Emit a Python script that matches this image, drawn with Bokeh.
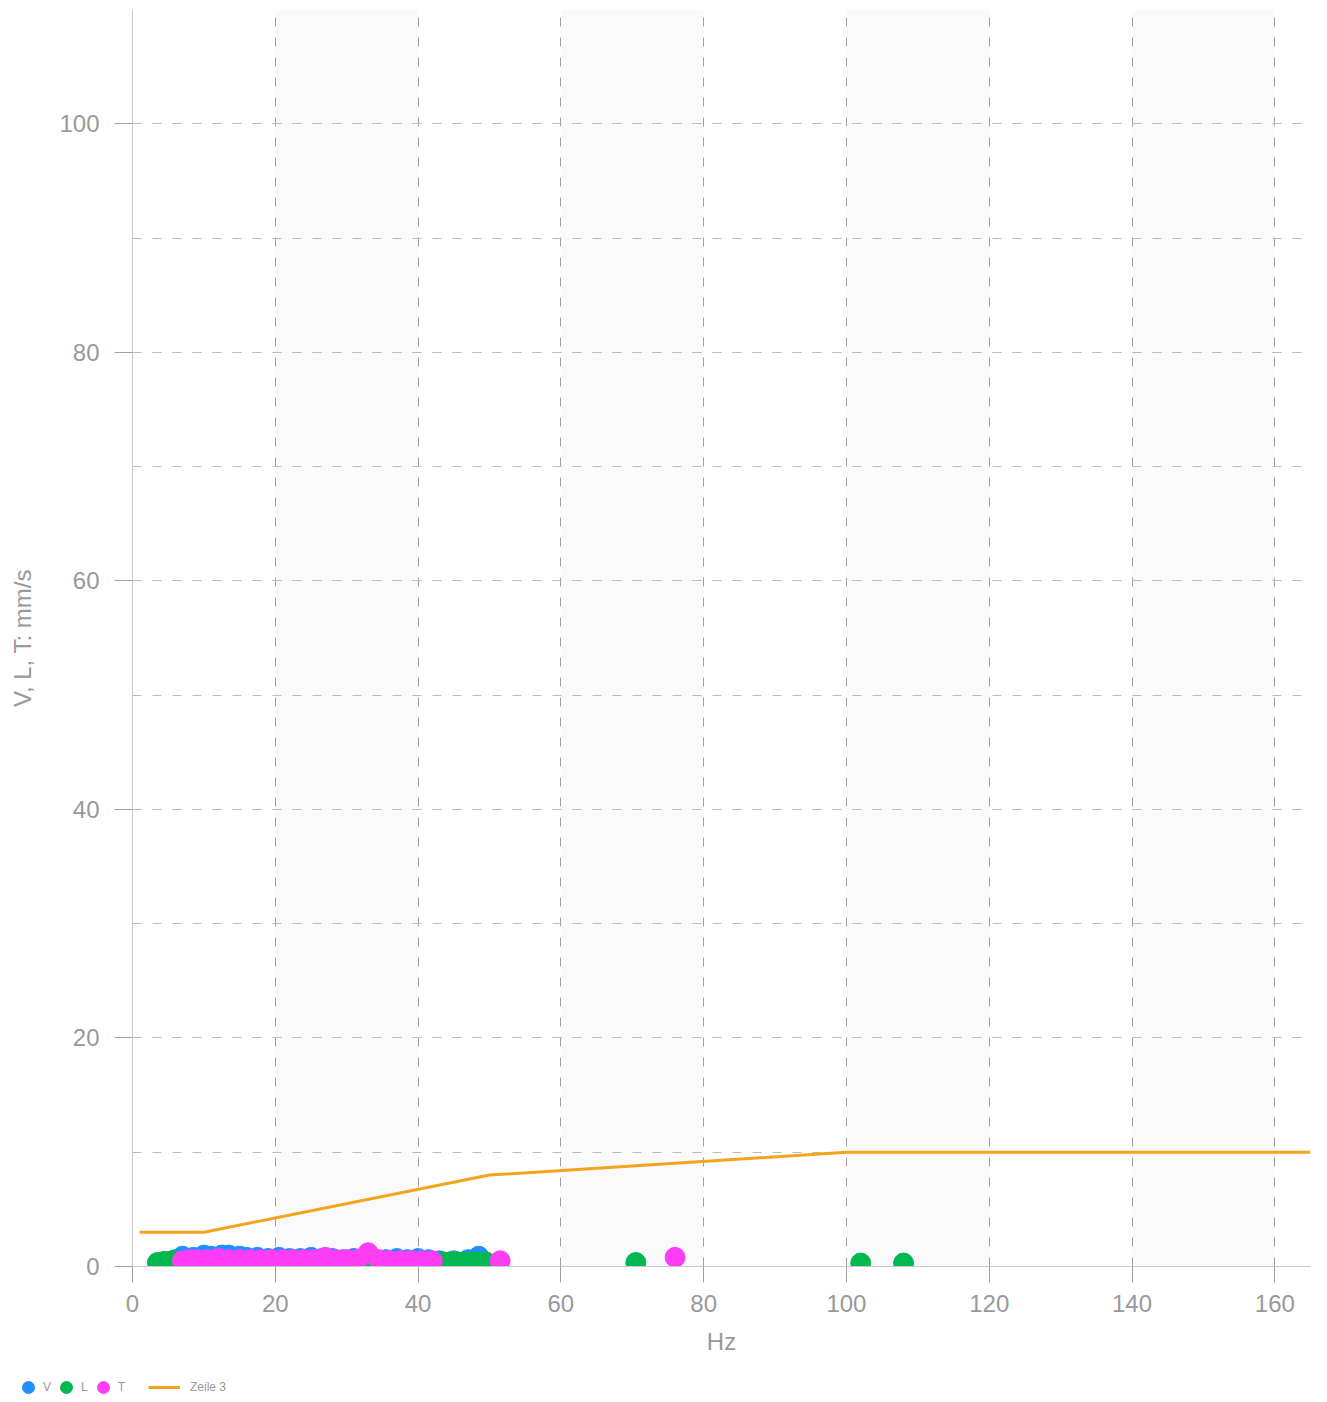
from bokeh.plotting import figure
from bokeh.models import Range1d, SingleIntervalTicker, Legend, LegendItem
from bokeh.layouts import column
from bokeh.embed import file_html
from bokeh.resources import INLINE

# Data
V_x = [6, 7, 8.5, 10, 11, 12.5, 13.5, 15, 16, 17.5, 19, 20.5, 22, 23.5, 25, 26.5, 28, 29.5,
       31, 32.5, 34, 35.5, 37, 38.5, 40, 41.5, 43, 45, 47, 48.5]
V_y = [0.6, 0.9, 0.8, 1.0, 0.9, 1.0, 1.0, 0.9, 0.8, 0.8, 0.7, 0.8, 0.7, 0.7, 0.8, 0.7, 0.7, 0.6,
       0.7, 0.7, 0.6, 0.6, 0.7, 0.6, 0.7, 0.6, 0.5, 0.5, 0.6, 0.9]

L_x = [3.5, 4.5, 5.5, 6.5, 8, 10, 12, 14, 17, 20, 23, 26, 29, 32, 35, 38, 41, 43.5, 44.5,
       45.5, 46.5, 47.5, 48.5, 49.5, 70.5, 102, 108]
L_y = [0.35, 0.45, 0.5, 0.5, 0.4, 0.4, 0.3, 0.3, 0.3, 0.3, 0.3, 0.3, 0.3, 0.3, 0.3, 0.3, 0.3,
       0.4, 0.4, 0.4, 0.35, 0.4, 0.4, 0.4, 0.35, 0.3, 0.3]

T_x = [7, 8, 9, 10.5, 12, 13.5, 15, 16.5, 18, 19.5, 21, 22.5, 24, 25.5, 27, 28.5, 30, 31.5,
       33, 34.5, 36, 37.5, 39, 40.5, 42, 51.5, 76]
T_y = [0.5, 0.6, 0.6, 0.6, 0.7, 0.6, 0.6, 0.6, 0.6, 0.6, 0.6, 0.6, 0.6, 0.6, 0.8, 0.6, 0.6, 0.6,
       1.2, 0.6, 0.5, 0.5, 0.5, 0.5, 0.5, 0.5, 0.8]

Z_x = [1, 10, 50, 100, 165]
Z_y = [3, 3, 8, 10, 10]

SERIES = ["V", "L", "T"]
COLORS = {"V": "#1f8fff", "L": "#00b84f", "T": "#ff3df5"}
LINE_NAME = "Zeile 3"
LINE_COLOR = "#f5a31a"

FONT = "Liberation Sans"
GRAY = "#999999"
NAN = float("nan")

p = figure(width=1320, height=1362, output_backend="svg", toolbar_location=None,
           x_range=Range1d(0, 165), y_range=Range1d(0, 110),
           min_border_left=132, min_border_right=10, min_border_top=9, min_border_bottom=96)
p.outline_line_color = None

p.xaxis.ticker = SingleIntervalTicker(interval=20, num_minor_ticks=0)
p.yaxis.ticker = SingleIntervalTicker(interval=20, num_minor_ticks=2)

for ax in (p.xaxis, p.yaxis):
    ax.axis_line_color = "#c8c8c8"
    ax.major_tick_line_color = "#a0a0a0"
    ax.minor_tick_line_color = None
    ax.major_label_text_font = FONT
    ax.major_label_text_color = GRAY
    ax.major_label_text_font_size = "24px"
    ax.axis_label_text_font = FONT
    ax.axis_label_text_color = GRAY
    ax.axis_label_text_font_style = "normal"
    ax.axis_label_text_font_size = "24px"

p.xaxis.major_tick_out = 16
p.xaxis.major_tick_in = 0
p.xaxis.major_label_standoff = 12
p.xaxis.axis_label = "Hz"
p.xaxis.axis_label_standoff = 13

p.yaxis.major_tick_out = 18
p.yaxis.major_tick_in = 0
p.yaxis.major_label_standoff = 15
p.yaxis.axis_label = "V, L, T: mm/s"
p.yaxis.axis_label_standoff = 20

p.xgrid.grid_line_color = "#a0a0a0"
p.xgrid.grid_line_dash = "9 11"
p.xgrid.band_fill_color = "#fafafa"
p.xgrid.band_fill_alpha = 1.0
p.ygrid.grid_line_color = "#bbbbbb"
p.ygrid.grid_line_dash = "9 11"
p.ygrid.minor_grid_line_color = "#bbbbbb"
p.ygrid.minor_grid_line_dash = "9 11"

p.line(Z_x, Z_y, line_color=LINE_COLOR, line_width=3)
for name, xs, ys in (("V", V_x, V_y), ("L", L_x, L_y), ("T", T_x, T_y)):
    p.scatter(xs, ys, size=20, fill_color=COLORS[name], line_color=COLORS[name])

# Legend row (separate strip below the chart); placeholder renderers hold no visible marks
lf = figure(width=1320, height=40, output_backend="svg", toolbar_location=None,
            x_axis_type=None, y_axis_type=None, min_border=0,
            x_range=Range1d(0, 1), y_range=Range1d(0, 1))
lf.frame_align = False
p.frame_align = False
lf.outline_line_color = None
lf.xgrid.visible = False
lf.ygrid.visible = False

sc_items = []
for name in SERIES:
    r = lf.scatter(x=[NAN], y=[NAN], size=20, fill_color=COLORS[name], line_color=COLORS[name])
    sc_items.append(LegendItem(label=name, renderers=[r]))
rl = lf.line(x=[NAN, NAN], y=[NAN, NAN], line_color=LINE_COLOR, line_width=3)

legA = Legend(items=sc_items, orientation="horizontal", location=(13, 0),
              glyph_width=30, glyph_height=30, label_standoff=0, spacing=0, label_width=0,
              label_text_font=FONT, label_text_font_size="12px", label_text_color=GRAY,
              background_fill_alpha=0, border_line_color=None, padding=0, margin=0)
legB = Legend(items=[LegendItem(label=LINE_NAME, renderers=[rl])], orientation="horizontal",
              location=(148, 0), label_width=0,
              glyph_width=32, glyph_height=30, label_standoff=10,
              label_text_font=FONT, label_text_font_size="12px", label_text_color=GRAY,
              background_fill_alpha=0, border_line_color=None, padding=0, margin=0)
lf.add_layout(legA, "center")
lf.add_layout(legB, "center")

layout = column(p, lf, spacing=0)
open("out.html", "w").write(file_html(layout, INLINE))
